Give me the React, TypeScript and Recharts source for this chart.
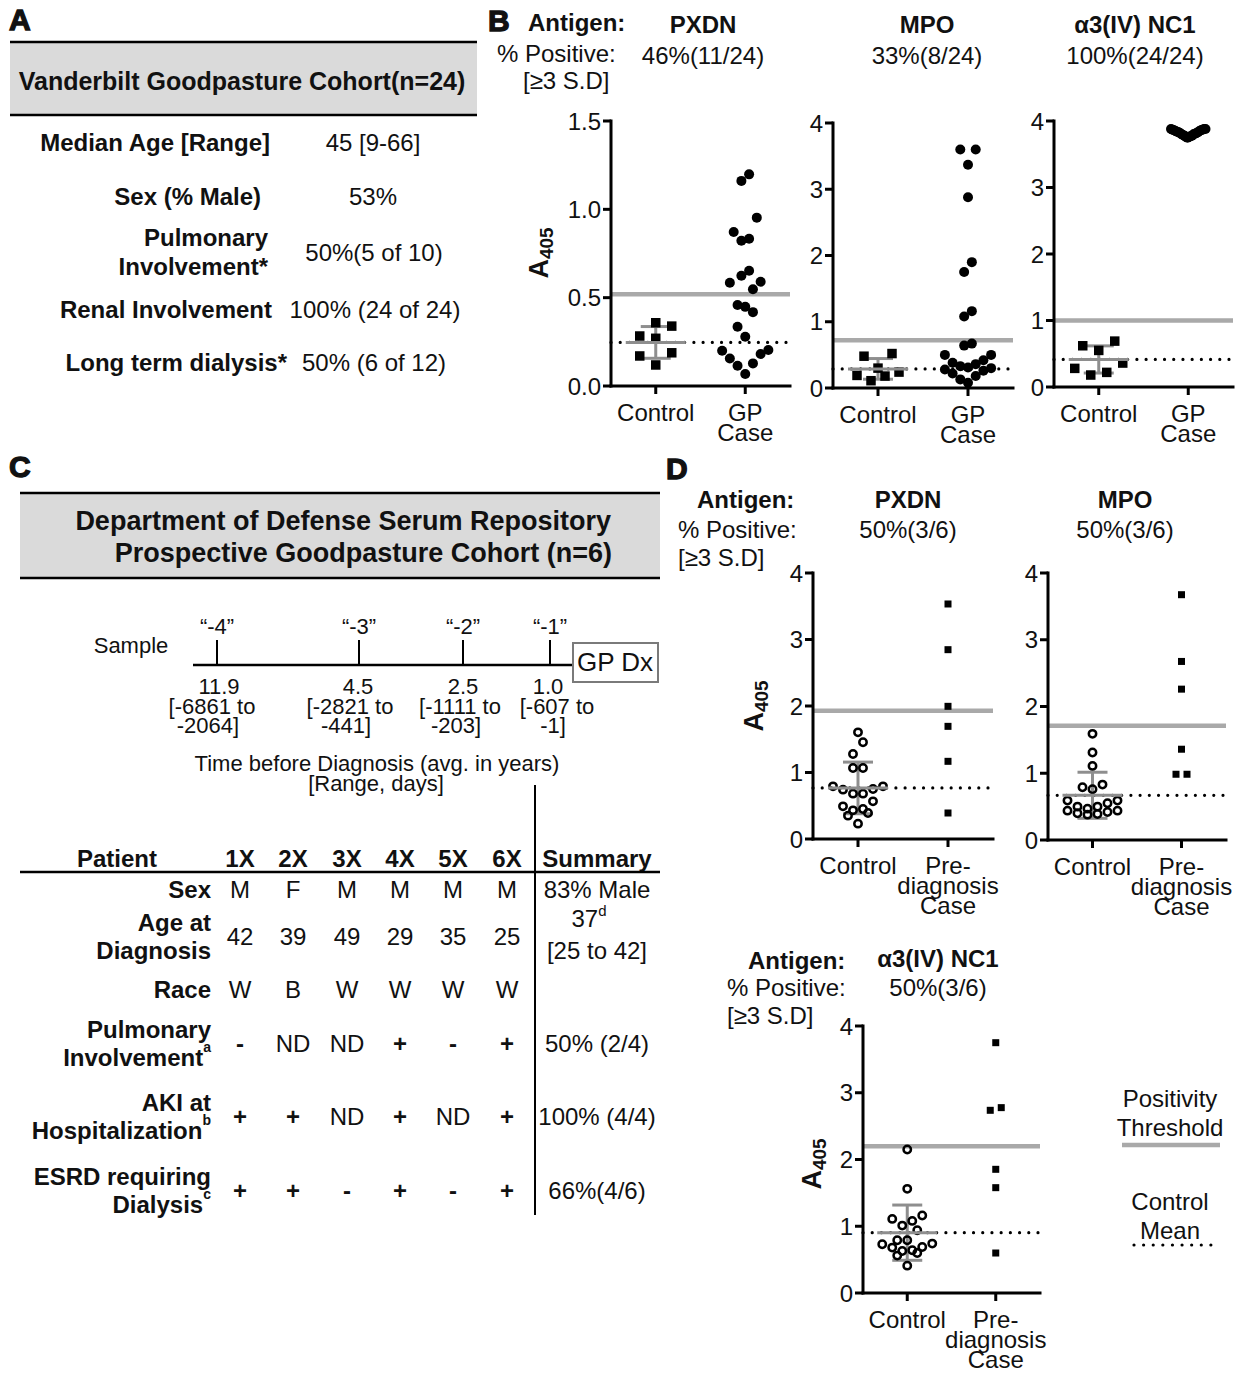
import React from 'react';
import { ScatterChart, Scatter, XAxis, YAxis, ReferenceLine, ErrorBar } from 'recharts';

const FONT = "'Liberation Sans', Arial, Helvetica, sans-serif";
const INK = '#111';
const GRAY_LINE = '#a9a9a9';
const GRAY_ERR = '#8e8e8e';
const BOX_FILL = '#dadada';

// ---------------- Panel A ----------------
const cohortATitle = 'Vanderbilt Goodpasture Cohort(n=24)';
const cohortALabels = [['Median Age [Range]'], ['Sex (% Male)'], ['Pulmonary', 'Involvement*'], ['Renal Involvement'], ['Long term dialysis*']];
const cohortAValues = ['45 [9-66]', '53%', '50%(5 of 10)', '100% (24 of 24)', '50% (6 of 12)'];

// ---------------- Panel B (Vanderbilt cohort, A405) ----------------
const bCategories = ['Control', 'GP\nCase'];
const bAntigens = ['PXDN', 'MPO', 'α3(IV) NC1'];
const bPercentPositive = ['46%(11/24)', '33%(8/24)', '100%(24/24)'];
const bPxdnControl = [0.358, 0.339, 0.283, 0.270, 0.188, 0.170, 0.119];
const bPxdnCase = [1.198, 1.161, 0.953, 0.872, 0.833, 0.822, 0.652, 0.624, 0.590, 0.584, 0.548, 0.458, 0.448, 0.418, 0.335, 0.279, 0.204, 0.200, 0.181, 0.156, 0.128, 0.115, 0.068];
const bMpoControl = [0.52, 0.48, 0.30, 0.24, 0.19, 0.18, 0.11];
const bMpoCase = [3.6, 3.6, 3.37, 2.88, 1.90, 1.75, 1.16, 1.08, 0.67, 0.64, 0.50, 0.50, 0.42, 0.38, 0.36, 0.33, 0.31, 0.30, 0.28, 0.26, 0.22, 0.18, 0.13, 0.08];
const bNc1Control = [0.69, 0.62, 0.55, 0.36, 0.28, 0.22, 0.18];
const bNc1Case = [3.75, 3.76, 3.76, 3.77, 3.78, 3.78, 3.79, 3.80, 3.80, 3.81, 3.82, 3.82, 3.83, 3.83, 3.84, 3.85, 3.85, 3.86, 3.86, 3.87, 3.87, 3.88, 3.88, 3.88];
const bThresholds = [0.52, 0.72, 1.0];

// ---------------- Panel D (DoD pre-diagnosis cohort, A405) ----------------
const dCategories = ['Control', 'Pre-\ndiagnosis\nCase'];
const dAntigens = ['PXDN', 'MPO', 'α3(IV) NC1'];
const dPercentPositive = ['50%(3/6)', '50%(3/6)', '50%(3/6)'];
const dPxdnControl = [1.604, 1.454, 1.278, 1.068, 1.068, 0.792, 0.792, 0.752, 0.742, 0.682, 0.682, 0.566, 0.491, 0.451, 0.431, 0.391, 0.351, 0.231];
const dPxdnCase = [3.534, 2.847, 1.995, 1.694, 1.168, 0.391];
const dMpoControl = [1.59, 1.31, 1.11, 0.83, 0.79, 0.76, 0.59, 0.59, 0.55, 0.50, 0.50, 0.47, 0.44, 0.44, 0.42, 0.40, 0.39, 0.38];
const dMpoCase = [3.675, 2.675, 2.26, 1.36, 0.985, 0.985];
const dNc1Control = [2.15, 1.56, 1.16, 1.11, 1.08, 1.01, 0.94, 0.79, 0.79, 0.74, 0.73, 0.69, 0.68, 0.64, 0.63, 0.60, 0.56, 0.41];
const dNc1Case = [3.75, 2.777, 2.737, 1.853, 1.578, 0.599];
const dThresholds = [1.93, 1.71, 2.2];

const ticksB1 = [0, 0.5, 1.0, 1.5];
const ticks4 = [0, 1, 2, 3, 4];

// ---------------- Panel C ----------------
const cohortCTitle = ['Department of Defense Serum Repository', 'Prospective Goodpasture Cohort (n=6)'];
const sampleLabels = ['“-4”', '“-3”', '“-2”', '“-1”'];
const sampleYears = ['11.9', '4.5', '2.5', '1.0'];
const sampleRanges = [['[-6861 to', '-2064]'], ['[-2821 to', '-441]'], ['[-1111 to', '-203]'], ['[-607 to', '-1]']];
const patientIds = ['1X', '2X', '3X', '4X', '5X', '6X'];
const rowLabels = [['Sex'], ['Age at', 'Diagnosis'], ['Race'], ['Pulmonary', 'Involvement'], ['AKI at', 'Hospitalization'], ['ESRD requiring', 'Dialysis']];
const rowNotes = ['', '', '', 'a', 'b', 'c'];
const patientRows = [
  ['M', 'F', 'M', 'M', 'M', 'M'],
  ['42', '39', '49', '29', '35', '25'],
  ['W', 'B', 'W', 'W', 'W', 'W'],
  ['-', 'ND', 'ND', '+', '-', '+'],
  ['+', '+', 'ND', '+', 'ND', '+'],
  ['+', '+', '-', '+', '-', '+'],
];
const summaries = ['83% Male', '37', '', '50% (2/4)', '100% (4/4)', '66%(4/6)'];

// ---------------- helpers ----------------
const meanOf = (a: number[]) => a.reduce((s, v) => s + v, 0) / a.length;
const sdOf = (a: number[]) => {
  const m = meanOf(a);
  return Math.sqrt(a.reduce((s, v) => s + (v - m) * (v - m), 0) / (a.length - 1));
};

// beeswarm: groups close values into rows and spreads each row symmetrically
function swarm(values: number[], center: number, pxPerY: number, pxPerX: number, stepPx: number, rowPx: number, maxPerRow: number) {
  const sorted = [...values].sort((a, b) => a - b);
  const rows: number[][] = [];
  let cur: number[] = [];
  for (const v of sorted) {
    if (cur.length && ((v - cur[0]) * pxPerY >= rowPx || cur.length >= maxPerRow)) {
      rows.push(cur);
      cur = [];
    }
    cur.push(v);
  }
  if (cur.length) rows.push(cur);
  const out: { x: number; y: number }[] = [];
  rows.forEach((row) => {
    const n = row.length;
    const slots = Array.from({ length: n }, (_, k) => (k - (n - 1) / 2) * stepPx);
    slots.sort((a, b) => Math.abs(a) - Math.abs(b) || a - b);
    row.forEach((v, k) => out.push({ x: center + slots[k] / pxPerX, y: v }));
  });
  return out;
}

const squareShape = (size: number) => (p: any) => (
  <rect x={p.cx - size / 2} y={p.cy - size / 2} width={size} height={size} fill="#000" />
);
const dotShape = (r: number) => (p: any) => <circle cx={p.cx} cy={p.cy} r={r} fill="#000" />;
const openShape = (p: any) => <circle cx={p.cx} cy={p.cy} r={3.7} fill="none" stroke="#000" strokeWidth={2.5} />;
const meanBarShape = (p: any) => (
  <line x1={p.cx - 30} x2={p.cx + 30} y1={p.cy} y2={p.cy} stroke={GRAY_ERR} strokeWidth={3} />
);

const Y_W = 60;
const M_TOP = 18;
const M_RIGHT = 14;
const X_H = 90;

type Spec = {
  left: number; top: number; plotW: number; plotH: number; yMax: number; ticks: number[]; decimals: number;
  cats: string[]; control: number[]; cases: number[]; threshold: number;
  controlShape: any; caseShape: any; controlSwarm: number[]; caseSwarm: number[];
};

const specs: Spec[] = [
  { left: 611, top: 121, plotW: 179, plotH: 265, yMax: 1.5, ticks: ticksB1, decimals: 1, cats: bCategories,
    control: bPxdnControl, cases: bPxdnCase, threshold: bThresholds[0], controlShape: squareShape(9.5), caseShape: dotShape(5),
    controlSwarm: [16, 14, 4], caseSwarm: [7.7, 26, 7] },
  { left: 833, top: 123, plotW: 180, plotH: 265, yMax: 4, ticks: ticks4, decimals: 0, cats: bCategories,
    control: bMpoControl, cases: bMpoCase, threshold: bThresholds[1], controlShape: squareShape(9.5), caseShape: dotShape(5),
    controlSwarm: [14, 16, 4], caseSwarm: [7.7, 26, 7] },
  { left: 1054, top: 121, plotW: 179, plotH: 266, yMax: 4, ticks: ticks4, decimals: 0, cats: bCategories,
    control: bNc1Control, cases: bNc1Case, threshold: bThresholds[2], controlShape: squareShape(9.5), caseShape: dotShape(5),
    controlSwarm: [16, 14, 4], caseSwarm: [1.5, 14, 30] },
  { left: 813, top: 573, plotW: 180, plotH: 266, yMax: 4, ticks: ticks4, decimals: 0, cats: dCategories,
    control: dPxdnControl, cases: dPxdnCase, threshold: dThresholds[0], controlShape: openShape, caseShape: squareShape(7),
    controlSwarm: [10, 13, 6], caseSwarm: [11, 6, 10] },
  { left: 1048, top: 573, plotW: 178, plotH: 267, yMax: 4, ticks: ticks4, decimals: 0, cats: dCategories,
    control: dMpoControl, cases: dMpoCase, threshold: dThresholds[1], controlShape: openShape, caseShape: squareShape(7),
    controlSwarm: [10, 13, 6], caseSwarm: [11, 6, 10] },
  { left: 863, top: 1026, plotW: 177, plotH: 267, yMax: 4, ticks: ticks4, decimals: 0, cats: dCategories,
    control: dNc1Control, cases: dNc1Case, threshold: dThresholds[2], controlShape: openShape, caseShape: squareShape(7),
    controlSwarm: [10, 13, 6], caseSwarm: [11, 6, 10] },
];

function Panel({ s }: { s: Spec }) {
  const W = Y_W + s.plotW + M_RIGHT;
  const H = M_TOP + s.plotH + X_H;
  const pxY = s.plotH / s.yMax;
  const pxX = s.plotW / 2;
  const ctrl = swarm(s.control, 0, pxY, pxX, s.controlSwarm[0], s.controlSwarm[1], s.controlSwarm[2]);
  const cs = swarm(s.cases, 1, pxY, pxX, s.caseSwarm[0], s.caseSwarm[1], s.caseSwarm[2]);
  const m = meanOf(s.control);
  const sd = sdOf(s.control);
  const catTick = (p: any) => {
    const lines = s.cats[Math.round(p.payload.value)].split('\n');
    return (
      <text x={p.x} y={p.y} textAnchor="middle" fontFamily={FONT} fontSize={24} fill={INK}>
        {lines.map((l, i) => (
          <tspan key={i} x={p.x} dy={i === 0 ? 25 : 20}>{l}</tspan>
        ))}
      </text>
    );
  };
  return (
    <div style={{ position: 'absolute', left: s.left - Y_W, top: s.top - M_TOP }}>
      <ScatterChart width={W} height={H} margin={{ top: M_TOP, right: M_RIGHT, bottom: 0, left: 0 }}>
        <XAxis type="number" dataKey="x" domain={[-0.5, 1.5]} ticks={[0, 1]} interval={0} height={X_H}
          allowDataOverflow tick={catTick} tickSize={8}
          axisLine={{ stroke: '#000', strokeWidth: 3, strokeLinecap: 'square' }}
          tickLine={{ stroke: '#000', strokeWidth: 3 }} />
        <YAxis type="number" dataKey="y" domain={[0, s.yMax]} ticks={s.ticks} interval={0} width={Y_W}
          allowDataOverflow tickSize={8} tickFormatter={(v: number) => v.toFixed(s.decimals)}
          tick={{ fontSize: 24, fill: INK, fontFamily: FONT }}
          axisLine={{ stroke: '#000', strokeWidth: 3, strokeLinecap: 'square' }}
          tickLine={{ stroke: '#000', strokeWidth: 3 }} />
        <ReferenceLine y={s.threshold} stroke={GRAY_LINE} strokeWidth={4.5} />
        <ReferenceLine y={m} stroke="#000" strokeWidth={3.2} strokeDasharray="0.01 9.2" strokeLinecap="round" />
        <Scatter data={ctrl} shape={s.controlShape} isAnimationActive={false} />
        <Scatter data={cs} shape={s.caseShape} isAnimationActive={false} />
        <Scatter data={[{ x: 0, y: m, sd }]} shape={meanBarShape} isAnimationActive={false}>
          <ErrorBar dataKey="sd" direction="y" width={15} stroke={GRAY_ERR} strokeWidth={3} />
        </Scatter>
      </ScatterChart>
    </div>
  );
}

const T = ({ x, y, children, anchor = 'middle', size = 24, weight = 'normal' }: any) => (
  <text x={x} y={y} textAnchor={anchor} dominantBaseline="central" fontSize={size} fontWeight={weight} fontFamily={FONT} fill={INK}>
    {children}
  </text>
);

const Letter = ({ x, y, ch }: any) => (
  <text x={x} y={y} fontSize={30} fontWeight="bold" fontFamily={FONT} fill={INK} stroke={INK} strokeWidth={1.3}>{ch}</text>
);

const A405 = ({ x, y }: any) => (
  <text transform={`translate(${x},${y}) rotate(-90)`} textAnchor="middle" fontFamily={FONT} fontWeight="bold" fontSize={27} fill={INK}>
    A<tspan fontSize={19} dy={5}>405</tspan>
  </text>
);

function Static() {
  const aLabelEnd = [270, 261, 268, 272, 287];
  const aRowY = [142, 196, 252, 309, 362];
  const aValueX = [373, 373, 374, 375, 374];
  const tickX = [217, 359, 463, 550];
  const yearX = [219, 358, 463, 548];
  const rangeX = [212, 350, 460, 557];
  const colX = [240, 293, 347, 400, 453, 507];
  const rowY = [889, 936, 989, 1043, 1116, 1190];
  const summaryX = 597;
  return (
    <svg width={1246} height={1375} style={{ position: 'absolute', left: 0, top: 0 }}>
      <rect x={0} y={0} width={1246} height={1375} fill="#fff" />
      {/* Panel letters */}
      <Letter x={9} y={30} ch="A" />
      <Letter x={488} y={31} ch="B" />
      <Letter x={9} y={477} ch="C" />
      <Letter x={666} y={479} ch="D" />

      {/* Panel A table */}
      <rect x={10} y={42} width={467} height={73} fill={BOX_FILL} />
      <line x1={10} x2={477} y1={42} y2={42} stroke="#000" strokeWidth={2.5} />
      <line x1={10} x2={477} y1={115} y2={115} stroke="#000" strokeWidth={2.5} />
      <T x={242} y={81} size={25} weight="bold">{cohortATitle}</T>
      {cohortALabels.map((lines, i) =>
        lines.map((l, j) => (
          <T key={`al${i}${j}`} x={aLabelEnd[i]} y={aRowY[i] + (j - (lines.length - 1) / 2) * 29} anchor="end" weight="bold">{l}</T>
        ))
      )}
      {cohortAValues.map((v, i) => (
        <T key={`av${i}`} x={aValueX[i]} y={aRowY[i]}>{v}</T>
      ))}

      {/* Panel B headers */}
      <T x={528} y={22} anchor="start" weight="bold">Antigen:</T>
      <T x={497} y={53} anchor="start">% Positive:</T>
      <T x={523} y={80} anchor="start">[≥3 S.D]</T>
      {bAntigens.map((a, i) => (
        <T key={`ba${i}`} x={[703, 927, 1135][i]} y={24} weight="bold">{a}</T>
      ))}
      {bPercentPositive.map((a, i) => (
        <T key={`bp${i}`} x={[703, 927, 1135][i]} y={55}>{a}</T>
      ))}
      <A405 x={548} y={253} />

      {/* Panel C */}
      <rect x={20} y={493} width={640} height={85} fill={BOX_FILL} />
      <line x1={20} x2={660} y1={493} y2={493} stroke="#000" strokeWidth={2.5} />
      <line x1={20} x2={660} y1={578} y2={578} stroke="#000" strokeWidth={2.5} />
      <T x={611} y={521} anchor="end" size={27} weight="bold">{cohortCTitle[0]}</T>
      <T x={612} y={553} anchor="end" size={27} weight="bold">{cohortCTitle[1]}</T>

      <T x={131} y={645} size={22}>Sample</T>
      <line x1={193} x2={573} y1={665} y2={665} stroke="#000" strokeWidth={2.5} />
      {tickX.map((x, i) => (
        <g key={`tk${i}`}>
          <line x1={x} x2={x} y1={640} y2={665} stroke="#000" strokeWidth={2} />
          <T x={x} y={626} size={22}>{sampleLabels[i]}</T>
          <T x={yearX[i]} y={686} size={22}>{sampleYears[i]}</T>
          <T x={rangeX[i]} y={706} size={22}>{sampleRanges[i][0]}</T>
          <T x={rangeX[i] - 4} y={725} size={22}>{sampleRanges[i][1]}</T>
        </g>
      ))}
      <rect x={573} y={643} width={85} height={39} fill="#fff" stroke="#7a7a7a" strokeWidth={2} />
      <T x={615} y={662} size={26}>GP Dx</T>
      <T x={377} y={763} size={22}>Time before Diagnosis (avg. in years)</T>
      <T x={376} y={783} size={22}>[Range, days]</T>

      <line x1={535} x2={535} y1={785} y2={1215} stroke="#000" strokeWidth={2} />
      <T x={117} y={858} weight="bold">Patient</T>
      {patientIds.map((p, i) => (
        <T key={`pid${i}`} x={colX[i]} y={858} weight="bold">{p}</T>
      ))}
      <T x={summaryX} y={858} weight="bold">Summary</T>
      <line x1={20} x2={660} y1={872} y2={872} stroke="#000" strokeWidth={2.5} />
      {rowLabels.map((lines, i) => (
        <g key={`rl${i}`}>
          {lines.map((l, j) => {
            const last = j === lines.length - 1 && rowNotes[i];
            return (
              <text key={j} x={211} y={rowY[i] + (j - (lines.length - 1) / 2) * 28} textAnchor="end" dominantBaseline="central"
                fontSize={24} fontWeight="bold" fontFamily={FONT} fill={INK}>
                {l}
                {last ? <tspan fontSize={14} dy={-10}>{rowNotes[i]}</tspan> : null}
              </text>
            );
          })}
          {patientRows[i].map((v, k) => (
            <T key={`pv${k}`} x={colX[k]} y={rowY[i]} weight={v === '+' || v === '-' ? 'bold' : 'normal'}>{v}</T>
          ))}
        </g>
      ))}
      <T x={summaryX} y={rowY[0]}>{summaries[0]}</T>
      <text x={summaryX - 8} y={918} textAnchor="middle" dominantBaseline="central" fontSize={24} fontFamily={FONT} fill={INK}>
        {summaries[1]}<tspan fontSize={15} dy={-8}>d</tspan>
      </text>
      <T x={summaryX} y={950}>[25 to 42]</T>
      {[3, 4, 5].map((i) => (
        <T key={`sm${i}`} x={summaryX} y={rowY[i]}>{summaries[i]}</T>
      ))}

      {/* Panel D headers */}
      <T x={697} y={499} anchor="start" weight="bold">Antigen:</T>
      <T x={678} y={529} anchor="start">% Positive:</T>
      <T x={678} y={557} anchor="start">[≥3 S.D]</T>
      <T x={908} y={499} weight="bold">{dAntigens[0]}</T>
      <T x={908} y={529}>{dPercentPositive[0]}</T>
      <T x={1125} y={499} weight="bold">{dAntigens[1]}</T>
      <T x={1125} y={529}>{dPercentPositive[1]}</T>
      <T x={748} y={960} anchor="start" weight="bold">Antigen:</T>
      <T x={727} y={987} anchor="start">% Positive:</T>
      <T x={727} y={1015} anchor="start">[≥3 S.D]</T>
      <T x={938} y={958} weight="bold">{dAntigens[2]}</T>
      <T x={938} y={987}>{dPercentPositive[2]}</T>
      <A405 x={763} y={706} />
      <A405 x={821} y={1164} />

      {/* Legend */}
      <T x={1170} y={1098}>Positivity</T>
      <T x={1170} y={1127}>Threshold</T>
      <line x1={1122} x2={1220} y1={1145} y2={1145} stroke={GRAY_LINE} strokeWidth={4.5} />
      <T x={1170} y={1201}>Control</T>
      <T x={1170} y={1230}>Mean</T>
      <line x1={1134} x2={1212} y1={1245} y2={1245} stroke="#000" strokeWidth={3.2} strokeDasharray="0.01 9.6" strokeLinecap="round" />
    </svg>
  );
}

export default function App() {
  return (
    <div style={{ position: 'absolute', left: 0, top: 0, width: 1246, height: 1375, background: '#fff', fontFamily: FONT }}>
      <Static />
      {specs.map((s, i) => (
        <Panel key={i} s={s} />
      ))}
    </div>
  );
}
